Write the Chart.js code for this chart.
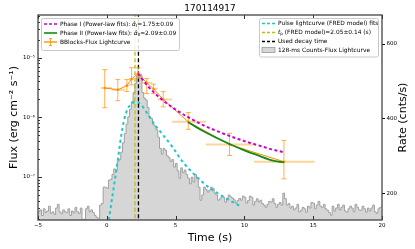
<!DOCTYPE html>
<html><head><meta charset="utf-8">
<script src="https://cdn.jsdelivr.net/npm/chart.js@4"></script>
<style>html,body{margin:0;padding:0;background:#fff;overflow:hidden}canvas{display:block}</style>
</head><body>
<canvas id="c" width="415" height="249"></canvas>
<script>
// ---------------- DATA ----------------
const titleText = '170114917';
const xTicks = [-5, 0, 5, 10, 15, 20];
const rateTicks = [200, 400, 600];

// 128-ms counts histogram (rate, cnts/s), bins start at -5 s
const histStart = -5, histWidth = 0.128;
const histRate = [
 150,155,140,158,148,152,165,146,150,143,160,170,150,145,155,150,148,158,140,152,
 147,162,150,145,160,128,130,158,165,150,155,148,140,135,132,168,172,216,216,213,
 235,237,250,265,262,285,290,310,335,360,385,405,425,445,470,495,515,510,518,470,
 455,450,430,405,400,385,380,370,350,320,305,320,315,300,295,285,290,270,280,260,
 240,268,255,262,250,240,225,243,230,250,240,216,181,195,216,210,203,208,216,213,
 200,195,181,185,192,189,176,185,195,190,187,182,173,180,186,181,192,189,173,180,
 192,189,168,178,185,176,181,172,168,162,170,178,176,185,172,162,170,175,168,200,
 185,168,172,160,165,155,160,170,150,154,162,158,149,165,160,175,173,158,168,178,
 165,162,170,158,154,148,141,165,152,160,170,155,162,168,152,149,158,165,160,150,
 170,162,155,154,165,158,149,160,152,160,168,150,146,158,162
];

// FRED pulse fit (rate axis)
const fredT = [0.15, 0.44, 0.66, 0.88, 1.05, 1.25, 1.5, 1.8, 2.1, 2.5, 3.0, 3.5, 4.0, 4.75, 5.5, 6.5, 7.5, 8.5, 9.7];
const fredR = [128, 200, 254, 310, 355, 395, 425, 440, 445, 437, 410, 383, 360, 325, 285, 245, 213, 190, 165];

// Bayesian-blocks flux lightcurve
const bbT   = [-0.15, 0.8, 1.46, 1.8, 2.27, 2.9, 3.4, 4.1, 5.92, 8.92, 12.87];
const bbF   = [3.1e-6, 2.9e-6, 3.4e-6, 4.4e-6, 5.4e-6, 3.8e-6, 3.0e-6, 2.0e-6, 8.4e-7, 3.5e-7, 1.8e-7];
const bbTlo = [-0.44, 0.37, 1.32, 1.6, 1.97, 2.45, 3.3, 3.7, 4.75, 7.2, 10.7];
const bbThi = [0.37, 1.32, 1.6, 1.97, 2.45, 3.3, 3.7, 4.75, 7.2, 10.7, 15.1];
const bbFlo = [1.45e-6, 1.9e-6, 2.7e-6, 3.5e-6, 4.5e-6, 2.5e-6, 2.5e-6, 1.5e-6, 6.3e-7, 2.3e-7, 9.3e-8];
const bbFhi = [6.3e-6, 4.3e-6, 4.3e-6, 6.8e-6, 6.8e-6, 4.5e-6, 3.6e-6, 2.7e-6, 1.2e-6, 5.4e-7, 4.1e-7];

// Power-law fits
const phase1T = [2.27, 3, 4, 5, 6, 7, 8, 9, 10, 11, 12, 12.87];
const phase1F = [5.4e-6, 3.3e-6, 2.0e-6, 1.35e-6, 9.8e-7, 7.4e-7, 5.9e-7, 4.8e-7, 4.0e-7, 3.4e-7, 2.9e-7, 2.6e-7];
const phase2T = [5.92, 7, 8, 9, 10, 11, 12, 12.87];
const phase2F = [8.3e-7, 5.9e-7, 4.5e-7, 3.5e-7, 2.8e-7, 2.3e-7, 1.9e-7, 1.75e-7];

const tPeak = 2.05, tDecay = 2.3;

// ---------------- BUILD ----------------
const FONT = 'DejaVu Sans';
Chart.defaults.font.family = FONT;
Chart.defaults.color = '#000';

const histPts = histRate.map((r, i) => ({x: histStart + histWidth * i, y: r}));
histPts.push({x: histStart + histWidth * histRate.length, y: histRate[histRate.length - 1]});
const errYPts = [], errXPts = [];
bbT.forEach((t, i) => {
  errYPts.push({x: t, y: bbFlo[i]}, {x: t, y: bbFhi[i]}, {x: t, y: null});
  errXPts.push({x: bbTlo[i], y: bbF[i]}, {x: bbThi[i], y: bbF[i]}, {x: bbThi[i], y: null});
});
const zip = (a, b) => a.map((v, i) => ({x: v, y: b[i]}));

const SUP = {'-': '⁻', '0': '⁰', '1': '¹', '2': '²', '3': '³', '4': '⁴', '5': '⁵', '6': '⁶', '7': '⁷', '8': '⁸', '9': '⁹'};
const sup = s => String(s).split('').map(c => SUP[c] || c).join('');
const FMIN = 1.9e-8, FMAX = 5.2e-5;

function drawRich(ctx, parts, x, y, size) {
  let cx = x;
  ctx.fillStyle = '#000';
  for (const p of parts) {
    const fs = p.sub ? size * 0.7 : size;
    ctx.font = (p.it ? 'italic ' : '') + fs + 'px ' + FONT;
    ctx.fillText(p.t, cx, p.sub ? y + size * 0.3 : y);
    cx += ctx.measureText(p.t).width;
  }
}
function box(ctx, x, y, w, h) {
  const r = 2;
  ctx.beginPath();
  ctx.moveTo(x + r, y); ctx.lineTo(x + w - r, y); ctx.quadraticCurveTo(x + w, y, x + w, y + r);
  ctx.lineTo(x + w, y + h - r); ctx.quadraticCurveTo(x + w, y + h, x + w - r, y + h);
  ctx.lineTo(x + r, y + h); ctx.quadraticCurveTo(x, y + h, x, y + h - r);
  ctx.lineTo(x, y + r); ctx.quadraticCurveTo(x, y, x + r, y); ctx.closePath();
  ctx.fillStyle = 'rgba(255,255,255,0.85)'; ctx.fill();
  ctx.strokeStyle = '#c8c8c8'; ctx.lineWidth = 1; ctx.stroke();
}
function hline(ctx, x1, x2, y, color, lw, dash) {
  ctx.save(); ctx.strokeStyle = color; ctx.lineWidth = lw; ctx.setLineDash(dash || []);
  ctx.beginPath(); ctx.moveTo(x1, y); ctx.lineTo(x2, y); ctx.stroke(); ctx.restore();
}

const deco = {
  id: 'deco',
  afterDraw(chart) {
    const ctx = chart.ctx, a = chart.chartArea;
    const xs = chart.scales.x, ys = chart.scales.y;
    ctx.save();
    // inward ticks
    ctx.strokeStyle = '#000'; ctx.lineWidth = 0.8;
    ctx.beginPath();
    xTicks.forEach(v => { const px = Math.round(xs.getPixelForValue(v)) + 0.5;
      ctx.moveTo(px, a.bottom); ctx.lineTo(px, a.bottom - 4);
      ctx.moveTo(px, a.top); ctx.lineTo(px, a.top + 4); });
    for (let e = -8; e <= -4; e++) for (let m = 1; m <= 9; m++) {
      const v = m * Math.pow(10, e); if (v < FMIN || v > FMAX) continue;
      const py = Math.round(ys.getPixelForValue(v)) + 0.5;
      ctx.moveTo(a.left, py); ctx.lineTo(a.left + (m === 1 ? 4 : 2), py);
    }
    ctx.stroke();
    // frame
    ctx.strokeStyle = '#444'; ctx.lineWidth = 1.3;
    ctx.strokeRect(a.left, a.top, a.right - a.left, a.bottom - a.top);
    // title & axis titles
    ctx.fillStyle = '#000'; ctx.textAlign = 'center'; ctx.textBaseline = 'middle';
    ctx.font = '9px ' + FONT; ctx.fillText(titleText, (a.left + a.right) / 2, 8.5);
    ctx.font = '11px ' + FONT; ctx.fillText('Time (s)', (a.left + a.right) / 2, 238);
    ctx.save(); ctx.translate(14, (a.top + a.bottom) / 2); ctx.rotate(-Math.PI / 2);
    ctx.fillText('Flux (erg cm' + sup(-2) + ' s' + sup(-1) + ')', 0, 0); ctx.restore();
    ctx.save(); ctx.translate(403, (a.top + a.bottom) / 2); ctx.rotate(-Math.PI / 2);
    ctx.fillText('Rate (cnts/s)', 0, 0); ctx.restore();
    // legend 1
    const fs = 5.9;
    ctx.textAlign = 'left'; ctx.textBaseline = 'middle';
    box(ctx, 41.5, 18.5, 138, 32);
    hline(ctx, 44, 57, 24, '#cc00cc', 1.6, [3, 2]);
    drawRich(ctx, [{t: 'Phase I (Power-law fits): '}, {t: 'α̂', it: true}, {t: 'I', sub: true}, {t: '=1.75±0.09'}], 60, 24, fs);
    hline(ctx, 44, 57, 33, '#138a13', 1.6);
    drawRich(ctx, [{t: 'Phase II (Power-law fits): '}, {t: 'α̂', it: true}, {t: 'II', sub: true}, {t: '=2.09±0.09'}], 60, 33, fs);
    hline(ctx, 44, 57, 42, 'rgba(255,165,0,0.55)', 1.6);
    hline(ctx, 44, 57, 42, '#ff8c00', 0.9);
    ctx.strokeStyle = '#ff9a1a'; ctx.lineWidth = 0.9; ctx.beginPath();
    ctx.moveTo(50.5, 38.5); ctx.lineTo(50.5, 45.5); ctx.moveTo(49, 38.5); ctx.lineTo(52, 38.5);
    ctx.moveTo(49, 45.5); ctx.lineTo(52, 45.5); ctx.stroke();
    drawRich(ctx, [{t: 'BBlocks-Flux Lightcurve'}], 60, 42, fs);
    // legend 2
    box(ctx, 259.5, 18.5, 119, 38.5);
    hline(ctx, 262, 275, 23.5, '#1fc8c8', 1.6, [3, 2]);
    drawRich(ctx, [{t: 'Pulse lightcurve (FRED model) fits'}], 278, 23.5, fs);
    hline(ctx, 262, 275, 32.5, '#bfbf00', 1.4, [3, 2]);
    drawRich(ctx, [{t: 't', it: true}, {t: 'p', sub: true}, {t: ' (FRED model)=2.05±0.14 (s)'}], 278, 32.5, fs);
    hline(ctx, 262, 275, 41.5, '#000', 1.4, [3, 2]);
    drawRich(ctx, [{t: 'Used decay time'}], 278, 41.5, fs);
    ctx.fillStyle = '#d6d6d6'; ctx.fillRect(262, 47.5, 13, 5);
    ctx.strokeStyle = '#999'; ctx.lineWidth = 0.8; ctx.strokeRect(262, 47.5, 13, 5);
    drawRich(ctx, [{t: '128-ms Counts-Flux Lightcurve'}], 278, 50, fs);
    ctx.restore();
  }
};

new Chart(document.getElementById('c'), {
  type: 'line',
  data: {
    datasets: [
      {label: 'Phase I', data: zip(phase1T, phase1F), yAxisID: 'y', borderColor: '#cc00cc', borderWidth: 2,
       borderDash: [3, 2.5], pointRadius: 0, cubicInterpolationMode: 'monotone', order: 1},
      {label: 'Phase II', data: zip(phase2T, phase2F), yAxisID: 'y', borderColor: '#138a13', borderWidth: 1.8,
       pointRadius: 0, cubicInterpolationMode: 'monotone', order: 2},
      {label: 'BBlocks', data: zip(bbT, bbF), yAxisID: 'y', borderColor: '#ff8c00', borderWidth: 1,
       pointRadius: 1.2, pointBackgroundColor: '#ff8c00', pointBorderWidth: 0, tension: 0, order: 3},
      {label: 'errY', data: errYPts, yAxisID: 'y', borderColor: 'rgba(255,150,20,0.85)', borderWidth: 0.9,
       pointStyle: 'line', pointRadius: 2.5, pointBorderColor: 'rgba(255,150,20,0.85)', pointBorderWidth: 0.9,
       tension: 0, spanGaps: false, order: 4},
      {label: 'errX', data: errXPts, yAxisID: 'y', borderColor: 'rgba(255,175,70,0.55)', borderWidth: 2,
       pointRadius: 0, tension: 0, spanGaps: false, order: 5},
      {label: 'decay', data: [{x: tDecay, y: 1e-9}, {x: tDecay, y: 1e-3}], yAxisID: 'y', borderColor: '#000',
       borderWidth: 1.3, borderDash: [4, 2.5], pointRadius: 0, order: 6},
      {label: 'tp', data: [{x: tPeak, y: 1e-9}, {x: tPeak, y: 1e-3}], yAxisID: 'y', borderColor: '#bfbf00',
       borderWidth: 1.3, borderDash: [4, 2.5], pointRadius: 0, order: 7},
      {label: 'FRED', data: zip(fredT, fredR), yAxisID: 'y2', borderColor: '#1fc8c8', borderWidth: 2,
       borderDash: [3, 3], pointRadius: 0, cubicInterpolationMode: 'monotone', order: 8},
      {label: 'hist', data: histPts, yAxisID: 'y2', borderColor: '#a0a0a0', borderWidth: 1,
       backgroundColor: '#d6d6d6', fill: 'start', stepped: 'before', pointRadius: 0, order: 9}
    ]
  },
  options: {
    responsive: false, animation: false, devicePixelRatio: 1,
    layout: {padding: {top: 15, left: 0, right: 0, bottom: 0}},
    plugins: {legend: {display: false}, tooltip: {enabled: false}},
    scales: {
      x: {type: 'linear', min: -5, max: 20,
        afterBuildTicks: s => { s.ticks = xTicks.map(v => ({value: v})); },
        ticks: {font: {size: 5.5}, padding: 2, maxRotation: 0,
          callback: v => v < 0 ? '−' + Math.abs(v) : String(v)},
        grid: {display: true, drawOnChartArea: false, drawTicks: false}, border: {display: false},
        afterFit: s => { s.height = 29; }},
      y: {type: 'logarithmic', position: 'left', min: FMIN, max: FMAX,
        afterBuildTicks: s => { s.ticks = [1e-7, 1e-6, 1e-5].map(v => ({value: v, major: true})); },
        ticks: {font: {size: 5.5}, padding: 3,
          callback: v => '10' + sup(Math.round(Math.log10(v)))},
        grid: {display: true, drawOnChartArea: false, drawTicks: false}, border: {display: false},
        afterFit: s => { s.width = 38; }},
      y2: {type: 'linear', position: 'right', min: 128, max: 678,
        afterBuildTicks: s => { s.ticks = rateTicks.map(v => ({value: v})); },
        ticks: {font: {size: 5.5}, padding: 1.5},
        grid: {display: true, drawOnChartArea: false, drawTicks: true, tickLength: 3, color: '#000'},
        border: {display: false},
        afterFit: s => { s.width = 33; }}
    }
  },
  plugins: [deco]
});
</script>
</body></html>
